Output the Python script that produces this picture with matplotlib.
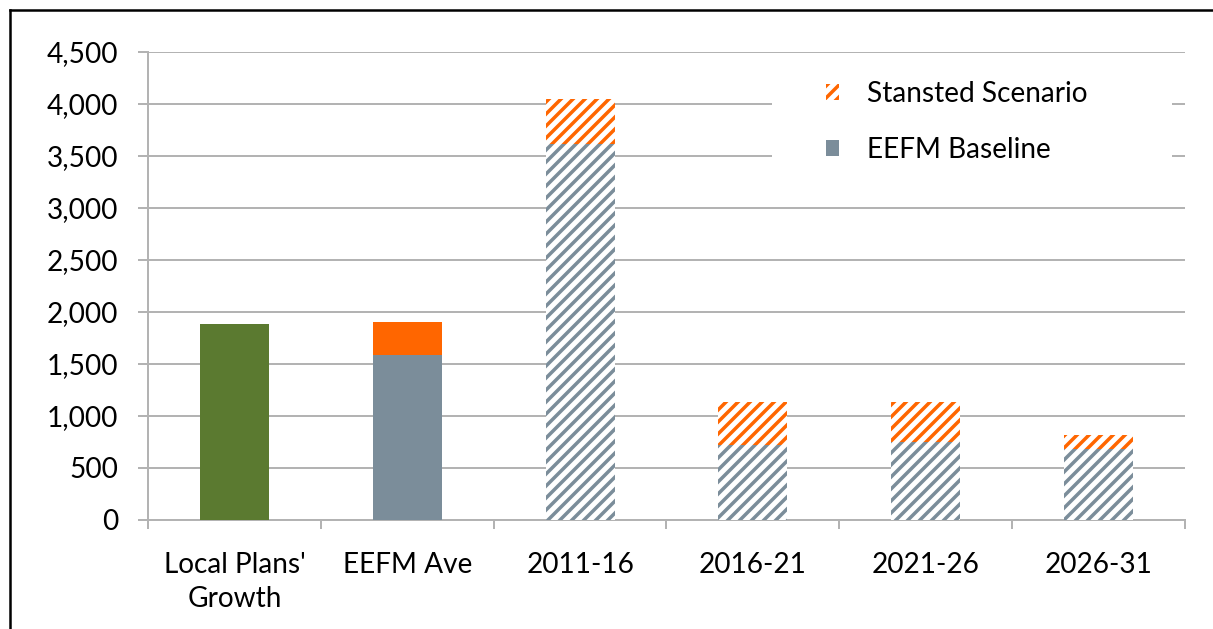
import matplotlib.pyplot as plt
from matplotlib.patches import Patch, Rectangle
from matplotlib.lines import Line2D
import numpy as np

# Data
categories = ["Local Plans'\nGrowth", "EEFM Ave", "2011-16", "2016-21", "2021-26", "2026-31"]
local_plans = [1880, 0, 0, 0, 0, 0]
eefm_baseline = [0, 1590, 3620, 720, 750, 680]
stansted_extra = [0, 310, 430, 410, 380, 140]
hatched = [False, False, True, True, True, True]

green = '#5b7a30'
grey = '#7b8d9a'
orange = '#ff6600'

plt.rcParams['font.family'] = ['Lato', 'DejaVu Sans']
plt.rcParams['hatch.linewidth'] = 3.5

# dpi 72 so one point is one pixel
fig = plt.figure(figsize=(1213 / 72, 629 / 72), dpi=72)
ax = fig.add_axes([148 / 1213, 1 - 520 / 629, (1185 - 148) / 1213, (520 - 52) / 629])

x = np.arange(len(categories))
w = 0.4

ax.bar(x[0], local_plans[0], w, color=green, zorder=3)
for i in range(1, len(categories)):
    if hatched[i]:
        ax.bar(x[i], eefm_baseline[i], w, facecolor='white', edgecolor=grey,
               linewidth=0, hatch='//', zorder=3)
        ax.bar(x[i], stansted_extra[i], w, bottom=eefm_baseline[i], facecolor='white',
               edgecolor=orange, linewidth=0, hatch='//', zorder=3)
    else:
        ax.bar(x[i], eefm_baseline[i], w, color=grey, zorder=3)
        ax.bar(x[i], stansted_extra[i], w, bottom=eefm_baseline[i], color=orange, zorder=3)

ax.set_xlim(-0.5, len(categories) - 0.5)
ax.set_ylim(0, 4500)
ax.set_yticks(np.arange(0, 4501, 500))
ax.set_yticklabels([f"{v:,}" for v in range(0, 4501, 500)])
ax.set_xticks(x)
ax.set_xticklabels(categories, linespacing=1.4)
ax.set_xticks(np.arange(-0.5, len(categories), 1), minor=True)

ax.yaxis.grid(True, color='#b3b3b3', linewidth=2, zorder=0)
ax.set_axisbelow(True)
for s in ['top', 'right']:
    ax.spines[s].set_visible(False)
for s in ['left', 'bottom']:
    ax.spines[s].set_color('#b3b3b3')
    ax.spines[s].set_linewidth(2)

ax.tick_params(axis='y', length=10, width=2, color='#b3b3b3', labelsize=28, pad=20)
ax.tick_params(axis='x', which='major', length=0, labelsize=28, pad=32)
ax.tick_params(axis='x', which='minor', length=9, width=2, color='#b3b3b3')

# white legend area hiding the gridlines behind it
ax.add_patch(Rectangle(((772 - 148) / 1037, 3200), (1172 - 772) / 1037, 1100,
                       transform=ax.get_yaxis_transform(), facecolor='white',
                       edgecolor='none', zorder=2))

handles = [Patch(facecolor='white', edgecolor=orange, linewidth=0, hatch='//'),
           Patch(facecolor=grey)]
leg = fig.legend(handles, ['Stansted Scenario', 'EEFM Baseline'], loc='upper left',
                 bbox_to_anchor=(826 / 1213, 1 - 81 / 629), fontsize=28, frameon=False,
                 handlelength=0.45, handleheight=0.45, handletextpad=1.0,
                 labelspacing=1.07, borderpad=0, borderaxespad=0)

# black frame around the picture (top and left edges visible)
fig.add_artist(Line2D([10 / 1213, 10 / 1213], [0, 1 - 10 / 629], color='black', linewidth=2.5))
fig.add_artist(Line2D([10 / 1213, 1], [1 - 10 / 629, 1 - 10 / 629], color='black', linewidth=2.5))

plt.savefig('out.png', dpi=72)
